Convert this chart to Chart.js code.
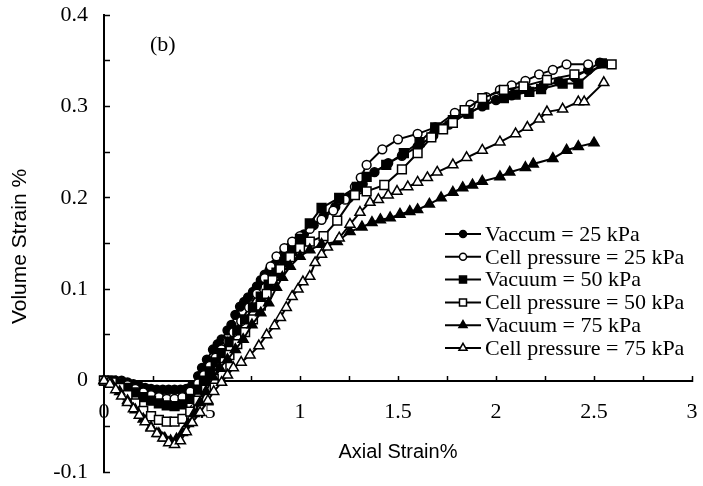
<!DOCTYPE html>
<html>
<head>
<meta charset="utf-8">
<title>Volume strain vs axial strain (b)</title>
<script src="https://cdn.jsdelivr.net/npm/chart.js"></script>
<style>
  body { margin: 0; background: #fff; }
  canvas { display: block; }
</style>
</head>
<body>
<canvas id="myChart" width="703" height="486"></canvas>
<script>
// legend text, same order as the datasets below
var seriesNames = ["Vaccum = 25 kPa", "Cell pressure = 25 kPa", "Vacuum = 50 kPa",
    "Cell pressure = 50 kPa", "Vacuum = 75 kPa", "Cell pressure = 75 kPa"];

// axial strain % (x) / volume strain % (y)
var axVac25 = [0, 0.03, 0.06, 0.09, 0.12, 0.15, 0.18, 0.21, 0.24, 0.27, 0.30, 0.33, 0.36, 0.39, 0.42,
    0.45, 0.48, 0.50, 0.525, 0.556, 0.58, 0.60, 0.63, 0.65, 0.67, 0.694, 0.715, 0.735, 0.76, 0.78,
    0.80, 0.82, 0.845, 0.87, 0.895, 0.92, 0.95, 0.98, 1.02, 1.07, 1.12, 1.18, 1.25, 1.32, 1.38,
    1.45, 1.52, 1.60, 1.68, 1.76, 1.85, 1.93, 2.00, 2.08, 2.16, 2.24, 2.32, 2.40, 2.47, 2.53];
var volVac25 = [0, 0, 0, 0, -0.002, -0.004, -0.006, -0.008, -0.009, -0.01, -0.01, -0.01, -0.01, -0.01, -0.009,
    -0.005, 0.005, 0.014, 0.023, 0.034, 0.04, 0.045, 0.055, 0.061, 0.072, 0.081, 0.086, 0.091, 0.097, 0.103,
    0.11, 0.116, 0.121, 0.127, 0.134, 0.14, 0.146, 0.152, 0.16, 0.17, 0.18, 0.19, 0.2, 0.215, 0.228,
    0.238, 0.246, 0.256, 0.268, 0.28, 0.292, 0.3, 0.307, 0.312, 0.318, 0.322, 0.327, 0.332, 0.34, 0.348];

var axCell25 = [0, 0.04, 0.08, 0.12, 0.16, 0.20, 0.24, 0.28, 0.32, 0.36, 0.40, 0.44, 0.48, 0.51, 0.54,
    0.57, 0.60, 0.63, 0.66, 0.70, 0.74, 0.78, 0.82, 0.85, 0.88, 0.92, 0.96, 1.00, 1.05, 1.11,
    1.17, 1.23, 1.28, 1.31, 1.34, 1.42, 1.50, 1.60, 1.69, 1.79, 1.87, 1.95, 2.02, 2.08, 2.15,
    2.22, 2.29, 2.36, 2.47];
var volCell25 = [0, 0, -0.002, -0.005, -0.009, -0.013, -0.016, -0.018, -0.02, -0.02, -0.018, -0.012, -0.003, 0.006, 0.016,
    0.025, 0.034, 0.043, 0.053, 0.065, 0.08, 0.095, 0.112, 0.125, 0.136, 0.145, 0.152, 0.158, 0.166, 0.176,
    0.186, 0.198, 0.212, 0.222, 0.236, 0.253, 0.264, 0.27, 0.277, 0.293, 0.302, 0.31, 0.318, 0.323, 0.328,
    0.335, 0.34, 0.346, 0.346];

var axVac50 = [0, 0.04, 0.08, 0.12, 0.16, 0.20, 0.24, 0.28, 0.32, 0.36, 0.40, 0.44, 0.48, 0.51, 0.54,
    0.57, 0.60, 0.64, 0.68, 0.72, 0.76, 0.80, 0.84, 0.88, 0.92, 0.96, 1.00, 1.05, 1.11, 1.20,
    1.29, 1.34, 1.44, 1.53, 1.61, 1.69, 1.78, 1.86, 1.94, 2.04, 2.10, 2.17, 2.23, 2.34, 2.42, 2.54];
var volVac50 = [0, 0, -0.003, -0.008, -0.013, -0.018, -0.022, -0.025, -0.027, -0.028, -0.026, -0.02, -0.01, 0, 0.01,
    0.02, 0.03, 0.042, 0.055, 0.067, 0.08, 0.092, 0.105, 0.118, 0.13, 0.142, 0.155, 0.172, 0.189, 0.2,
    0.212, 0.223, 0.236, 0.249, 0.261, 0.277, 0.285, 0.292, 0.302, 0.309, 0.313, 0.316, 0.319, 0.325, 0.325, 0.347];

var axCell50 = [0, 0.04, 0.08, 0.12, 0.16, 0.20, 0.24, 0.28, 0.32, 0.36, 0.40, 0.44, 0.48, 0.52, 0.56,
    0.60, 0.64, 0.68, 0.72, 0.76, 0.80, 0.83, 0.86, 0.90, 0.95, 1.00, 1.05, 1.12, 1.19, 1.28,
    1.34, 1.43, 1.52, 1.60, 1.67, 1.73, 1.78, 1.84, 1.93, 2.04, 2.14, 2.26, 2.40, 2.59];
var volCell50 = [0, -0.002, -0.008, -0.016, -0.025, -0.033, -0.039, -0.043, -0.045, -0.045, -0.042, -0.034, -0.022, -0.01, 0.002,
    0.015, 0.028, 0.04, 0.053, 0.067, 0.082, 0.095, 0.11, 0.122, 0.135, 0.145, 0.152, 0.158, 0.175, 0.203,
    0.207, 0.214, 0.231, 0.249, 0.266, 0.275, 0.282, 0.296, 0.309, 0.318, 0.322, 0.329, 0.335, 0.346];

var axVac75 = [0, 0.04, 0.08, 0.12, 0.16, 0.20, 0.24, 0.28, 0.31, 0.34, 0.37, 0.40, 0.43, 0.46, 0.49,
    0.52, 0.556, 0.59, 0.63, 0.67, 0.71, 0.755, 0.80, 0.84, 0.88, 0.91, 0.95, 1.00, 1.05, 1.11,
    1.19, 1.255, 1.316, 1.367, 1.41, 1.46, 1.51, 1.56, 1.60, 1.66, 1.72, 1.78, 1.83, 1.88, 1.93,
    2.02, 2.07, 2.15, 2.19, 2.29, 2.36, 2.42, 2.50];
var volVac75 = [0, -0.004, -0.012, -0.022, -0.032, -0.042, -0.051, -0.058, -0.063, -0.066, -0.064, -0.057, -0.047, -0.036, -0.024,
    -0.012, 0.004, 0.014, 0.023, 0.034, 0.045, 0.061, 0.074, 0.085, 0.102, 0.113, 0.125, 0.136, 0.143, 0.149,
    0.152, 0.163, 0.168, 0.173, 0.176, 0.178, 0.182, 0.185, 0.187, 0.193, 0.2, 0.206, 0.211, 0.214, 0.218,
    0.223, 0.228, 0.233, 0.237, 0.243, 0.252, 0.256, 0.26];

var axCell75 = [0, 0.03, 0.06, 0.09, 0.12, 0.15, 0.18, 0.21, 0.24, 0.27, 0.30, 0.33, 0.36, 0.39, 0.42,
    0.45, 0.49, 0.53, 0.56, 0.60, 0.63, 0.66, 0.70, 0.745, 0.79, 0.83, 0.87, 0.90, 0.93, 0.96,
    0.99, 1.015, 1.05, 1.077, 1.11, 1.14, 1.20, 1.255, 1.306, 1.357, 1.40, 1.45, 1.495, 1.55, 1.60,
    1.65, 1.70, 1.78, 1.85, 1.93, 2.02, 2.10, 2.16, 2.22, 2.26, 2.34, 2.42, 2.45, 2.55];
var volCell75 = [0, -0.004, -0.01, -0.017, -0.024, -0.031, -0.038, -0.045, -0.052, -0.058, -0.063, -0.068, -0.07, -0.066, -0.056,
    -0.046, -0.035, -0.022, -0.012, -0.002, 0.006, 0.014, 0.02, 0.028, 0.038, 0.05, 0.06, 0.069, 0.08, 0.092,
    0.1, 0.108, 0.114, 0.129, 0.138, 0.146, 0.156, 0.171, 0.184, 0.195, 0.198, 0.203, 0.207, 0.212, 0.217,
    0.222, 0.228, 0.236, 0.244, 0.252, 0.261, 0.27, 0.277, 0.286, 0.294, 0.297, 0.305, 0.305, 0.326];

var xTickLabels = ["0", "0.5", "1", "1.5", "2", "2.5", "3"];
var yTickLabels = ["-0.1", "0", "0.1", "0.2", "0.3", "0.4"];
var xTitle = "Axial Strain%";
var yTitle = "Volume Strain %";
var panelTag = "(b)";

var xSeries = [axVac25, axCell25, axVac50, axCell50, axVac75, axCell75];
var ySeries = [volVac25, volCell25, volVac50, volCell50, volVac75, volCell75];

// marker look per series
var markerStyle = ['circle', 'circle', 'rect', 'rect', 'triangle', 'triangle'];
var markerFill = ['#000', '#fff', '#000', '#fff', '#000', '#fff'];
var markerSize = { circle: 4.4, rect: 6.2, triangle: 5.8 };

var serifFont = '"Liberation Serif", "Times New Roman", serif';
var sansFont = '"Liberation Sans", Arial, sans-serif';

var datasets = [];
for (let i = 0; i < seriesNames.length; i++) {
    let pts = [];
    for (let j = 0; j < xSeries[i].length; j++) {
        pts.push({ x: xSeries[i][j], y: ySeries[i][j] });
    }
    datasets.push({
        label: seriesNames[i],
        data: pts,
        showLine: true,
        borderColor: '#000',
        borderWidth: 2,
        pointStyle: markerStyle[i],
        pointRadius: markerSize[markerStyle[i]],
        pointBackgroundColor: markerFill[i],
        pointBorderColor: '#000',
        pointBorderWidth: 1.5,
        clip: false,
        order: seriesNames.length - i // later series on top, like the original
    });
}

function drawMarker(c, style, x, y, r, fill) {
    c.beginPath();
    if (style === 'circle') {
        c.arc(x, y, r, 0, Math.PI * 2);
    } else if (style === 'rect') {
        let s = r * Math.SQRT1_2;
        c.rect(x - s, y - s, 2 * s, 2 * s);
    } else {
        c.moveTo(x, y - r);
        c.lineTo(x + r * Math.sin(2 * Math.PI / 3), y - r * Math.cos(2 * Math.PI / 3));
        c.lineTo(x + r * Math.sin(4 * Math.PI / 3), y - r * Math.cos(4 * Math.PI / 3));
        c.closePath();
    }
    c.fillStyle = fill;
    c.fill();
    c.lineWidth = 1.5;
    c.strokeStyle = '#000';
    c.stroke();
}

// axis titles, panel tag and the in-plot legend
var figureText = {
    id: 'figureText',
    afterDraw: function (chart) {
        var c = chart.ctx;
        var area = chart.chartArea;
        c.save();
        c.fillStyle = '#000';
        c.textBaseline = 'middle';

        c.font = '20px ' + sansFont;
        c.textAlign = 'center';
        c.fillText(xTitle, (area.left + area.right) / 2, 452);
        c.save();
        c.font = '21px ' + sansFont;
        c.translate(20, (area.top + area.bottom) / 2 + 3);
        c.rotate(-Math.PI / 2);
        c.fillText(yTitle, 0, 0);
        c.restore();

        c.font = '22px ' + serifFont;
        c.textAlign = 'left';
        c.fillText(panelTag, 150, 45);

        var lx = 445, ly = 234, step = 22.8;
        chart.data.datasets.forEach(function (ds, i) {
            let y = ly + i * step;
            c.beginPath();
            c.moveTo(lx, y);
            c.lineTo(lx + 36, y);
            c.lineWidth = 2;
            c.strokeStyle = '#000';
            c.stroke();
            drawMarker(c, markerStyle[i], lx + 18, y, markerSize[markerStyle[i]] * 0.8, markerFill[i]);
            c.fillStyle = '#000';
            c.fillText(ds.label, lx + 40, y + 1);
        });
        c.restore();
    }
};

var axisGrid = {
    display: true,
    drawOnChartArea: false,
    drawTicks: true,
    tickLength: -6,
    tickColor: '#000',
    tickWidth: 1.5
};

var ctx = document.getElementById('myChart').getContext('2d');
var chart = new Chart(ctx, {
    type: 'scatter',
    data: { datasets: datasets },
    options: {
        responsive: false,
        animation: false,
        devicePixelRatio: 1,
        layout: { padding: { top: 15, right: 11, bottom: 14, left: 0 } },
        plugins: {
            legend: { display: false },
            tooltip: { enabled: false }
        },
        scales: {
            x: {
                type: 'linear',
                min: 0,
                max: 3,
                position: { y: 0 },
                border: { display: true, color: '#000', width: 2 },
                grid: axisGrid,
                ticks: {
                    stepSize: 0.25,
                    autoSkip: false,
                    maxRotation: 0,
                    padding: 24,
                    color: '#000',
                    font: { family: serifFont, size: 22 },
                    callback: function (v) {
                        let k = Math.round(v * 2);
                        return Math.abs(v * 2 - k) < 1e-6 ? xTickLabels[k] : '';
                    }
                },
                afterFit: function (scale) {
                    scale.paddingLeft = 0;
                    scale.paddingRight = 0;
                }
            },
            y: {
                type: 'linear',
                min: -0.1,
                max: 0.4,
                position: 'left',
                border: { display: true, color: '#000', width: 2 },
                grid: axisGrid,
                ticks: {
                    stepSize: 0.05,
                    autoSkip: false,
                    padding: 22,
                    color: '#000',
                    font: { family: serifFont, size: 22 },
                    callback: function (v) {
                        let k = Math.round(v * 10);
                        return Math.abs(v * 10 - k) < 1e-6 ? yTickLabels[k + 1] : '';
                    }
                },
                afterFit: function (scale) {
                    scale.width = 104;
                    scale.paddingTop = 0;
                    scale.paddingBottom = 0;
                }
            }
        }
    },
    plugins: [figureText]
});
</script>
</body>
</html>
